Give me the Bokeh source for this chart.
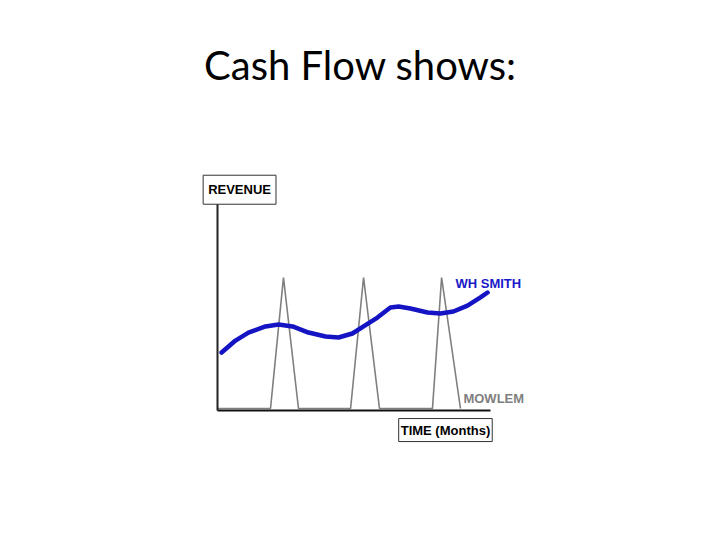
from bokeh.plotting import figure
from bokeh.models import Label
from bokeh.embed import file_html
from bokeh.resources import INLINE

# MOWLEM: revenue arrives in spikes (months, revenue units)
mowlem_month = [0, 2.33, 2.90, 3.56, 5.85, 6.42, 7.12, 9.45, 9.85, 10.68]
mowlem_rev = [0.15, 0.15, 10.0, 0.15, 0.15, 10.0, 0.15, 0.15, 10.0, 0.15]

# WH SMITH: steady flow of revenue
smith_month = [0.18, 0.79, 1.36, 2.11, 2.68, 3.30, 4.00, 4.75, 5.32, 5.93, 6.42,
               7.03, 7.60, 7.96, 8.48, 9.23, 9.80, 10.37, 10.99, 11.56, 11.87]
smith_rev = [4.36, 5.26, 5.86, 6.32, 6.47, 6.32, 5.86, 5.56, 5.49, 5.79, 6.32,
             6.99, 7.74, 7.82, 7.67, 7.37, 7.29, 7.44, 7.89, 8.50, 8.87]

# axis extents
x_axis_month = [0, 12]
x_axis_rev = [0, 0]
y_axis_month = [0, 0]
y_axis_rev = [0, 15.56]

W, H = 704, 524
ox, oy = 217, 114          # canvas position of the origin (left, bottom)
sx, sy = 22.75, 13.3       # pixels per month / per revenue unit

p = figure(width=W, height=H, output_backend="svg", toolbar_location=None,
           x_range=(-ox / sx, (W - ox) / sx), y_range=(-oy / sy, (H - oy) / sy),
           x_axis_location=None, y_axis_location=None, min_border=0)
p.grid.visible = False
p.outline_line_color = None
p.background_fill_color = "white"

p.line(mowlem_month, mowlem_rev, line_color="#7f7f7f", line_width=1.6)
p.line(x_axis_month, x_axis_rev, line_color="#111111", line_width=2)
p.line(y_axis_month, y_axis_rev, line_color="#222222", line_width=2)
p.line(smith_month, smith_rev, line_color="#1414c4", line_width=4.5,
       line_join="round", line_cap="round")

font = "Liberation Sans"
p.add_layout(Label(x=10.46, y=9.55, text="WH SMITH", text_font=font,
                   text_font_size="13px", text_font_style="bold",
                   text_color="#1a1ac8", text_baseline="middle"))
p.add_layout(Label(x=10.81, y=0.9, text="MOWLEM", text_font=font,
                   text_font_size="13px", text_font_style="bold",
                   text_color="#7f7f7f", text_baseline="middle"))
p.add_layout(Label(x=0.97, y=16.6, text="REVENUE", text_font=font,
                   text_font_size="13px", text_font_style="bold",
                   text_color="black", text_align="center", text_baseline="middle",
                   border_line_color="#333333", border_line_width=1,
                   background_fill_color="white", padding=(5, 7)))
p.add_layout(Label(x=10.02, y=-1.47, text="TIME (Months)", text_font=font,
                   text_font_size="13px", text_font_style="bold",
                   text_color="black", text_align="center", text_baseline="middle",
                   border_line_color="#333333", border_line_width=1,
                   background_fill_color="white", padding=(2, 4)))

p.add_layout(Label(x=360, y=460, x_units="screen", y_units="screen",
                   text="Cash Flow shows:", text_font="Lato", text_font_size="40px",
                   text_color="black", text_align="center", text_baseline="alphabetic"))

open("out.html", "w").write(file_html(p, INLINE))
